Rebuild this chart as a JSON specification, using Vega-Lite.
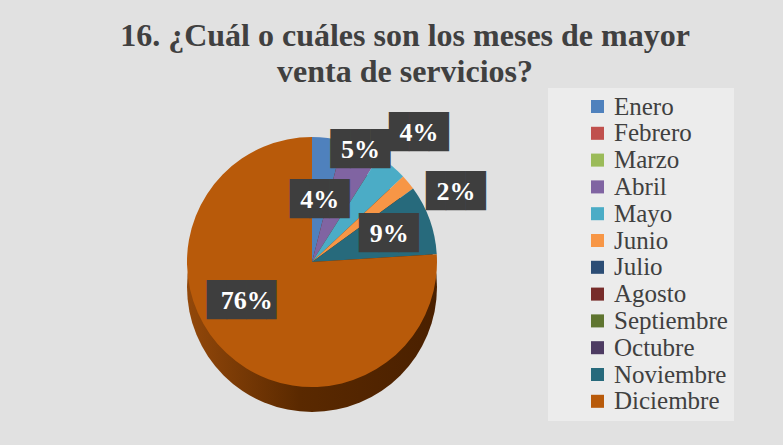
{
  "$schema": "https://vega.github.io/schema/vega-lite/v6.json",
  "width": 624,
  "height": 324,
  "autosize": {"type": "none"},
  "padding": {"left": 0, "top": 100, "right": 159, "bottom": 21},
  "background": "#e1e1e1",
  "config": {"view": {"stroke": null}},
  "title": {
    "text": ["16. ¿Cuál o cuáles son los meses de mayor", "venta de servicios?"],
    "font": "Times New Roman, Liberation Serif, serif",
    "fontSize": 32,
    "fontWeight": "bold",
    "color": "#404040",
    "lineHeight": 36,
    "anchor": "middle",
    "dx": 93,
    "dy": 22,
    "offset": 12
  },
  "data": {
    "values": [
      {"mes": "Enero", "n": 1, "pct": 0.04},
      {"mes": "Febrero", "n": 2, "pct": 0},
      {"mes": "Marzo", "n": 3, "pct": 0},
      {"mes": "Abril", "n": 4, "pct": 0.05},
      {"mes": "Mayo", "n": 5, "pct": 0.04},
      {"mes": "Junio", "n": 6, "pct": 0.02},
      {"mes": "Julio", "n": 7, "pct": 0},
      {"mes": "Agosto", "n": 8, "pct": 0},
      {"mes": "Septiembre", "n": 9, "pct": 0},
      {"mes": "Octubre", "n": 10, "pct": 0},
      {"mes": "Noviembre", "n": 11, "pct": 0.09},
      {"mes": "Diciembre", "n": 12, "pct": 0.76}
    ]
  },
  "layer": [
    {
      "transform": [{"aggregate": [{"op": "sum", "field": "pct", "as": "total"}]}],
      "mark": {
        "type": "arc",
        "outerRadius": 125,
        "yOffset": 25,
        "fill": {
          "gradient": "linear",
          "x1": 0, "y1": 0, "x2": 1, "y2": 0,
          "stops": [
            {"offset": 0, "color": "#93480a"},
            {"offset": 0.45, "color": "#5a2900"},
            {"offset": 1, "color": "#4a2000"}
          ]
        }
      },
      "encoding": {
        "theta": {"field": "total", "type": "quantitative", "scale": {"domain": [0, 1]}}
      }
    },
    {
      "mark": {"type": "arc", "outerRadius": 125},
      "encoding": {
        "theta": {"field": "pct", "type": "quantitative", "stack": true, "scale": {"domain": [0, 1]}},
        "order": {"field": "n", "type": "quantitative", "sort": "ascending"},
        "color": {
          "field": "mes",
          "type": "nominal",
          "sort": ["Enero", "Febrero", "Marzo", "Abril", "Mayo", "Junio", "Julio", "Agosto", "Septiembre", "Octubre", "Noviembre", "Diciembre"],
          "scale": {
            "domain": ["Enero", "Febrero", "Marzo", "Abril", "Mayo", "Junio", "Julio", "Agosto", "Septiembre", "Octubre", "Noviembre", "Diciembre"],
            "range": ["#4f81bd", "#c0504d", "#9bbb59", "#8064a2", "#4bacc6", "#f79646", "#2c4d75", "#772c2a", "#5f7530", "#4d3b62", "#276a7c", "#b85a0a"]
          },
          "legend": {
            "title": null,
            "orient": "none",
            "legendX": 548,
            "legendY": -12,
            "padding": 6,
            "fillColor": "#ececec",
            "symbolType": "square",
            "symbolSize": 170,
            "symbolStrokeWidth": 0,
            "symbolOffset": 31,
            "labelFont": "Times New Roman, Liberation Serif, serif",
            "labelFontSize": 25,
            "labelColor": "#404040",
            "labelOffset": 4,
            "rowPadding": 0.8,
            "labelLimit": 300
          }
        }
      }
    },
    {
      "mark": {"type": "text", "radius": 62, "font": "DejaVu Sans Mono", "fontSize": 33, "color": "#3e3e3e", "baseline": "middle", "align": "center"},
      "encoding": {
        "theta": {"field": "pct", "type": "quantitative", "stack": true, "scale": {"domain": [0, 1]}},
        "order": {"field": "n", "type": "quantitative", "sort": "ascending"},
        "text": {"condition": {"test": "datum.mes === 'Enero'", "value": "███"}, "value": ""}
      }
    },
    {
      "mark": {"type": "text", "radius": 62, "font": "Times New Roman, Liberation Serif, serif", "fontWeight": "bold", "fontSize": 26, "color": "#ffffff", "baseline": "middle", "align": "center"},
      "encoding": {
        "theta": {"field": "pct", "type": "quantitative", "stack": true, "scale": {"domain": [0, 1]}},
        "order": {"field": "n", "type": "quantitative", "sort": "ascending"},
        "text": {"condition": {"test": "datum.mes === 'Enero'", "field": "pct", "format": ".0%"}, "value": ""}
      }
    },
    {
      "mark": {"type": "text", "radius": 122, "font": "DejaVu Sans Mono", "fontSize": 33, "color": "#3e3e3e", "baseline": "middle", "align": "center"},
      "encoding": {
        "theta": {"field": "pct", "type": "quantitative", "stack": true, "scale": {"domain": [0, 1]}},
        "order": {"field": "n", "type": "quantitative", "sort": "ascending"},
        "text": {"condition": {"test": "datum.mes === 'Abril'", "value": "███"}, "value": ""}
      }
    },
    {
      "mark": {"type": "text", "radius": 122, "font": "Times New Roman, Liberation Serif, serif", "fontWeight": "bold", "fontSize": 26, "color": "#ffffff", "baseline": "middle", "align": "center"},
      "encoding": {
        "theta": {"field": "pct", "type": "quantitative", "stack": true, "scale": {"domain": [0, 1]}},
        "order": {"field": "n", "type": "quantitative", "sort": "ascending"},
        "text": {"condition": {"test": "datum.mes === 'Abril'", "field": "pct", "format": ".0%"}, "value": ""}
      }
    },
    {
      "mark": {"type": "text", "radius": 168, "font": "DejaVu Sans Mono", "fontSize": 33, "color": "#3e3e3e", "baseline": "middle", "align": "center"},
      "encoding": {
        "theta": {"field": "pct", "type": "quantitative", "stack": true, "scale": {"domain": [0, 1]}},
        "order": {"field": "n", "type": "quantitative", "sort": "ascending"},
        "text": {"condition": {"test": "datum.mes === 'Mayo'", "value": "███"}, "value": ""}
      }
    },
    {
      "mark": {"type": "text", "radius": 168, "font": "Times New Roman, Liberation Serif, serif", "fontWeight": "bold", "fontSize": 26, "color": "#ffffff", "baseline": "middle", "align": "center"},
      "encoding": {
        "theta": {"field": "pct", "type": "quantitative", "stack": true, "scale": {"domain": [0, 1]}},
        "order": {"field": "n", "type": "quantitative", "sort": "ascending"},
        "text": {"condition": {"test": "datum.mes === 'Mayo'", "field": "pct", "format": ".0%"}, "value": ""}
      }
    },
    {
      "mark": {"type": "text", "radius": 160, "thetaOffset": 0.24, "font": "DejaVu Sans Mono", "fontSize": 33, "color": "#3e3e3e", "baseline": "middle", "align": "center"},
      "encoding": {
        "theta": {"field": "pct", "type": "quantitative", "stack": true, "scale": {"domain": [0, 1]}},
        "order": {"field": "n", "type": "quantitative", "sort": "ascending"},
        "text": {"condition": {"test": "datum.mes === 'Junio'", "value": "███"}, "value": ""}
      }
    },
    {
      "mark": {"type": "text", "radius": 160, "thetaOffset": 0.24, "font": "Times New Roman, Liberation Serif, serif", "fontWeight": "bold", "fontSize": 26, "color": "#ffffff", "baseline": "middle", "align": "center"},
      "encoding": {
        "theta": {"field": "pct", "type": "quantitative", "stack": true, "scale": {"domain": [0, 1]}},
        "order": {"field": "n", "type": "quantitative", "sort": "ascending"},
        "text": {"condition": {"test": "datum.mes === 'Junio'", "field": "pct", "format": ".0%"}, "value": ""}
      }
    },
    {
      "mark": {"type": "text", "radius": 82, "font": "DejaVu Sans Mono", "fontSize": 33, "color": "#3e3e3e", "baseline": "middle", "align": "center"},
      "encoding": {
        "theta": {"field": "pct", "type": "quantitative", "stack": true, "scale": {"domain": [0, 1]}},
        "order": {"field": "n", "type": "quantitative", "sort": "ascending"},
        "text": {"condition": {"test": "datum.mes === 'Noviembre'", "value": "███"}, "value": ""}
      }
    },
    {
      "mark": {"type": "text", "radius": 82, "font": "Times New Roman, Liberation Serif, serif", "fontWeight": "bold", "fontSize": 26, "color": "#ffffff", "baseline": "middle", "align": "center"},
      "encoding": {
        "theta": {"field": "pct", "type": "quantitative", "stack": true, "scale": {"domain": [0, 1]}},
        "order": {"field": "n", "type": "quantitative", "sort": "ascending"},
        "text": {"condition": {"test": "datum.mes === 'Noviembre'", "field": "pct", "format": ".0%"}, "value": ""}
      }
    },
    {
      "mark": {"type": "text", "radius": 76, "thetaOffset": 0.28, "font": "DejaVu Sans Mono", "fontSize": 33, "color": "#3e3e3e", "baseline": "middle", "align": "center"},
      "encoding": {
        "theta": {"field": "pct", "type": "quantitative", "stack": true, "scale": {"domain": [0, 1]}},
        "order": {"field": "n", "type": "quantitative", "sort": "ascending"},
        "text": {"condition": {"test": "datum.mes === 'Diciembre'", "value": "███▌"}, "value": ""}
      }
    },
    {
      "mark": {"type": "text", "radius": 76, "thetaOffset": 0.28, "font": "Times New Roman, Liberation Serif, serif", "fontWeight": "bold", "fontSize": 26, "color": "#ffffff", "baseline": "middle", "align": "center"},
      "encoding": {
        "theta": {"field": "pct", "type": "quantitative", "stack": true, "scale": {"domain": [0, 1]}},
        "order": {"field": "n", "type": "quantitative", "sort": "ascending"},
        "text": {"condition": {"test": "datum.mes === 'Diciembre'", "field": "pct", "format": ".0%"}, "value": ""}
      }
    }
  ]
}
